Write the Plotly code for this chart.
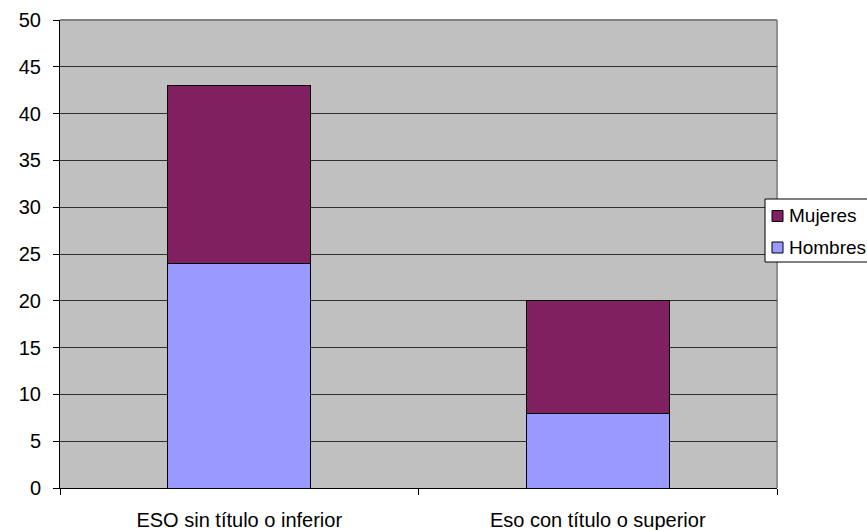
import plotly.graph_objects as go

categories = ["ESO sin título o inferior", "Eso con título o superior"]
hombres = [24, 8]
mujeres = [19, 12]
y_ticks = list(range(0, 51, 5))

series = [("Hombres", hombres, "#9999FF"), ("Mujeres", mujeres, "#802060")]

fig = go.Figure()
for name, vals, col in series:
    fig.add_trace(go.Bar(
        name=name, x=categories, y=vals,
        marker=dict(color=col, line=dict(color="black", width=1)),
        width=0.4, showlegend=False,
    ))

# plot-area geometry in pixels (for the hand-drawn legend)
W, H = 867, 530
L, R, T, B = 60, 90, 20, 42
pw, ph = W - L - R, H - T - B


def px(xp):
    return (xp - L) / pw


def py(yp):
    return (H - B - yp) / ph


shapes = [
    dict(type="line", xref="paper", yref="paper", x0=1, x1=1, y0=0, y1=1,
         line=dict(color="#909090", width=2), layer="below"),
    dict(type="line", xref="paper", yref="paper", x0=0, x1=1, y0=1, y1=1,
         line=dict(color="#808080", width=2)),
    # legend box
    dict(type="rect", xref="paper", yref="paper",
         x0=px(765), x1=px(900), y0=py(262), y1=py(199),
         line=dict(color="black", width=1), fillcolor="white"),
]
annotations = []
# legend entries: reversed order (Mujeres on top)
for i, (name, vals, col) in enumerate(reversed(series)):
    cy = 216 + i * 31.5
    shapes.append(dict(type="rect", xref="paper", yref="paper",
                       x0=px(772), x1=px(783), y0=py(cy + 5.5), y1=py(cy - 5.5),
                       line=dict(color="black", width=1), fillcolor=col))
    annotations.append(dict(xref="paper", yref="paper", x=px(787), y=py(cy),
                            xanchor="left", yanchor="middle", showarrow=False,
                            text=name, font=dict(size=19, color="black")))

fig.update_layout(
    barmode="stack",
    width=W, height=H,
    margin=dict(l=L, r=R, t=T, b=B, autoexpand=False),
    paper_bgcolor="white",
    plot_bgcolor="#C0C0C0",
    font=dict(family="Liberation Sans, Arial, sans-serif", size=20, color="black"),
    showlegend=False,
    xaxis=dict(
        type="category",
        tickson="boundaries",
        ticks="outside", ticklen=6, tickcolor="black",
        showline=True, linecolor="black", linewidth=1,
        showgrid=False,
        ticklabelstandoff=14,
        range=[-0.5, 1.5],
    ),
    yaxis=dict(
        range=[0, 50],
        tickvals=y_ticks,
        ticks="outside", ticklen=6, tickcolor="black",
        showline=True, linecolor="black", linewidth=1,
        showgrid=True, gridcolor="#303030", gridwidth=1,
        zeroline=False,
        ticklabelstandoff=8,
    ),
    shapes=shapes,
    annotations=annotations,
)

fig.write_html("out.html", config={"displayModeBar": False},
               post_script="document.body.style.margin='0px';")
